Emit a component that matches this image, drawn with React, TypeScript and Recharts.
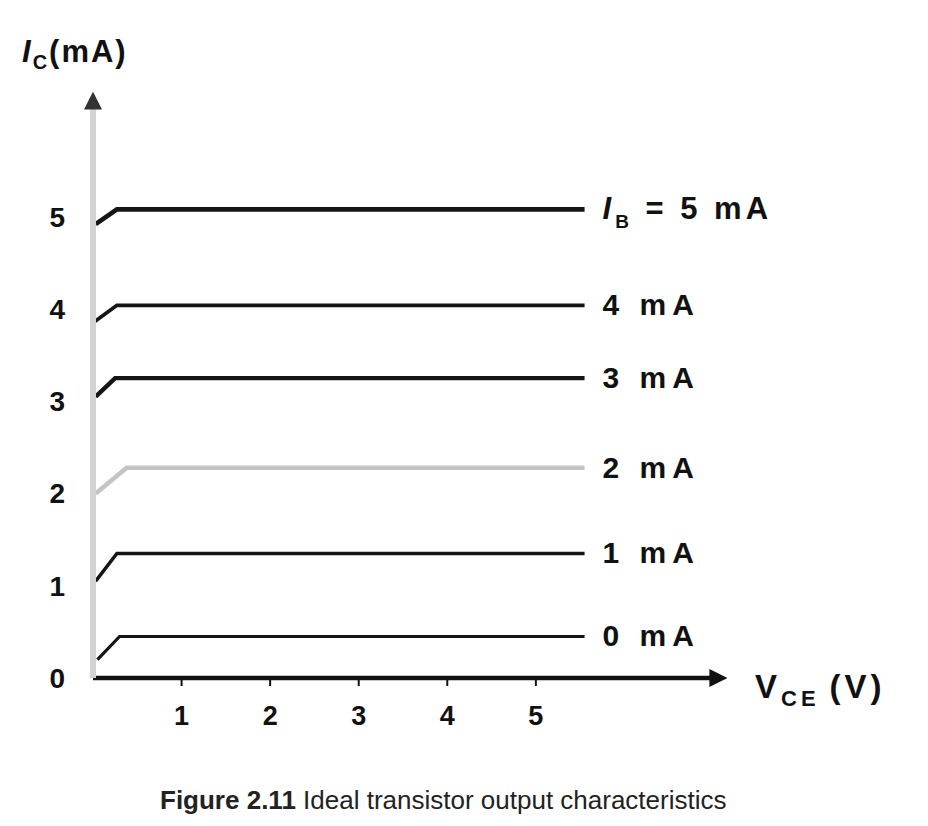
import { Line, LineChart, XAxis, YAxis } from "recharts";

// base current for each curve (mA)
const ibLevels = [0, 1, 2, 3, 4, 5];
// V_CE where each curve starts, collector current there
const vStart = [0.05, 0.03, 0.03, 0.03, 0.0, 0.03];
const icStart = [0.2, 1.05, 2.0, 3.05, 3.85, 4.92];
// knee voltage and flat (saturated) collector current
const vKnee = [0.3, 0.27, 0.38, 0.25, 0.27, 0.27];
const icPlateau = [0.45, 1.35, 2.28, 3.25, 4.04, 5.08];
const vEnd = 5.55;

const xTicks = [1, 2, 3, 4, 5];
const yTicks = [0, 1, 2, 3, 4, 5];

const curveColors = ["#151515", "#151515", "#c4c4c4", "#151515", "#151515", "#151515"];
const curveWidths = [3.2, 3.4, 4.5, 4.4, 3.8, 4.6];

const curves = ibLevels.map((ib, i) => ({
  ib,
  points: [
    { v: vStart[i], ic: icStart[i] },
    { v: vKnee[i], ic: icPlateau[i] },
    { v: vEnd, ic: icPlateau[i] },
  ],
}));

const FONT = '"Liberation Sans", Arial, sans-serif';

const curveLabel = (ib: number) => (props: any) => {
  const { x, y, index } = props;
  if (index !== 2) return <g key={`e-${ib}-${index}`} />;
  if (ib === 5) {
    return (
      <text key={`l-${ib}`} x={x + 18} y={y} dy={10} fontFamily={FONT} fontSize={31} fontWeight="bold" fill="#111" letterSpacing={4}>
        <tspan fontStyle="italic">I</tspan>
        <tspan dy={9} fontSize={19}>B</tspan>
        <tspan dy={-9}>{`  =  ${ib} mA`}</tspan>
      </text>
    );
  }
  return (
    <text key={`l-${ib}`} x={x + 18} y={y} dy={10} fontFamily={FONT} fontSize={30} fontWeight="bold" fill="#111" letterSpacing={6}>
      {`${ib} mA`}
    </text>
  );
};

export default function App() {
  return (
    <div style={{ position: "relative", width: 912, height: 810, background: "#fff", fontFamily: FONT }}>
      <svg width={0} height={0} style={{ position: "absolute" }}>
        <defs>
          <marker id="arrowX" viewBox="0 0 10 10" refX="2" refY="5" markerWidth="4" markerHeight="4" orient="auto">
            <path d="M0,0 L10,5 L0,10 z" fill="#111" />
          </marker>
          <marker id="arrowY" viewBox="0 0 10 10" refX="2" refY="5" markerWidth="3" markerHeight="3" orient="auto-start-reverse">
            <path d="M0,0 L10,5 L0,10 z" fill="#333" />
          </marker>
        </defs>
      </svg>

      <div style={{ position: "absolute", left: 14, top: 26, fontSize: 31, fontWeight: "bold", color: "#111", letterSpacing: 2 }}>
        <i>I</i>
        <sub style={{ fontSize: 20 }}>C</sub>(mA)
      </div>

      <LineChart width={912} height={760} margin={{ top: 98, right: 207, bottom: 30, left: 25 }}>
        <XAxis
          dataKey="v"
          type="number"
          domain={[0, 7]}
          ticks={xTicks}
          interval={0}
          allowDataOverflow
          height={60}
          axisLine={{ stroke: "#111", strokeWidth: 4.5, markerEnd: "url(#arrowX)" }}
          tickLine={{ stroke: "#111", strokeWidth: 2 }}
          tickSize={8}
          tickMargin={20}
          tick={{ fill: "#111", fontSize: 27, fontWeight: "bold", fontFamily: FONT }}
        />
        <YAxis
          type="number"
          domain={[0, 6.2]}
          ticks={yTicks}
          interval={0}
          allowDataOverflow
          width={60}
          axisLine={{ stroke: "#d2d2d2", strokeWidth: 6, markerStart: "url(#arrowY)" }}
          tickLine={false}
          tickMargin={22}
          tick={{ fill: "#111", fontSize: 28, fontWeight: "bold", fontFamily: FONT }}
        />
        {curves.map((c, i) => (
          <Line
            key={c.ib}
            data={c.points}
            dataKey="ic"
            type="linear"
            stroke={curveColors[i]}
            strokeWidth={curveWidths[i]}
            dot={false}
            label={curveLabel(c.ib)}
            isAnimationActive={false}
          />
        ))}
      </LineChart>

      <div style={{ position: "absolute", left: 747, top: 660, fontSize: 33, fontWeight: "bold", color: "#111", letterSpacing: 4, whiteSpace: "nowrap" }}>
        V<sub style={{ fontSize: 22 }}>CE</sub>
        <span style={{ marginLeft: 10 }}>(V)</span>
      </div>

      <div style={{ position: "absolute", left: 152, top: 777, fontSize: 26, color: "#222", whiteSpace: "nowrap" }}>
        <b>Figure 2.11</b> Ideal transistor output characteristics
      </div>
    </div>
  );
}
